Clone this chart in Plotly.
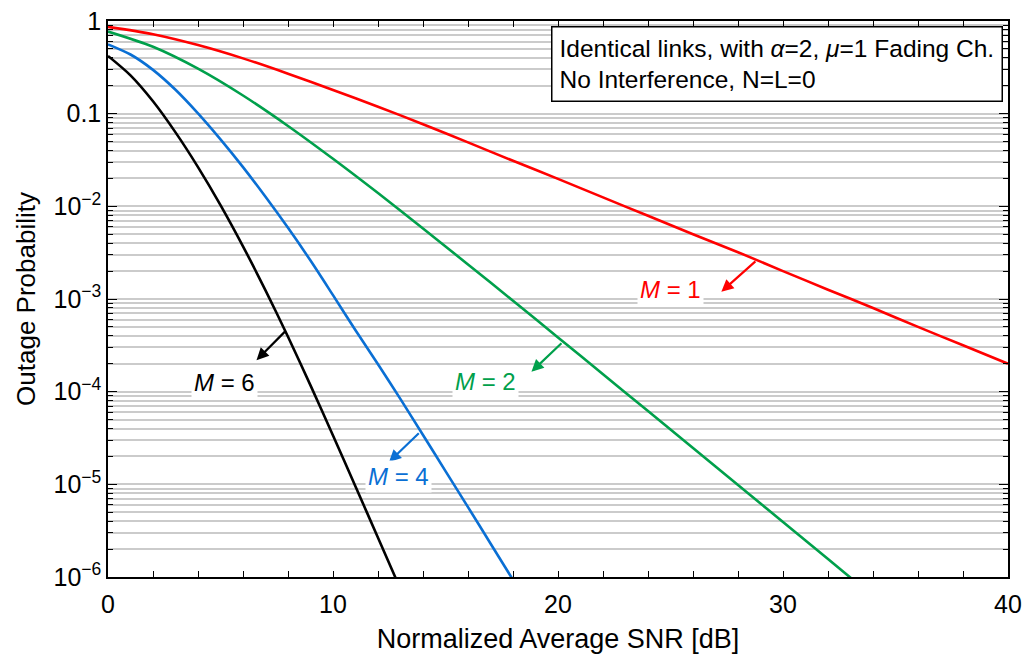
import plotly.graph_objects as go

# ---------------- data ----------------
snr_m1 = [0, 2, 4, 6, 8, 10, 12, 14, 16, 18, 20, 22, 24, 26, 28, 30, 32, 34, 36, 38, 40]
pout_m1 = [0.865, 0.72, 0.55, 0.395, 0.27, 0.18, 0.119, 0.077, 0.049, 0.031, 0.0198,
           0.0125, 0.0079, 0.005, 0.0032, 0.002, 0.00126, 0.0008, 0.0005, 0.000317, 0.0002]

snr_m2 = [0, 2, 4, 6, 8, 10, 12, 14, 16, 18, 20, 22, 24, 26, 28, 30, 32, 34]
pout_m2 = [0.769, 0.527, 0.306, 0.157, 0.0737, 0.0326, 0.0139, 0.00576, 0.00236, 9.57e-4,
           3.85e-4, 1.54e-4, 6.17e-5, 2.47e-5, 9.85e-6, 3.92e-6, 1.56e-6, 6.2e-7]

snr_m4 = [0, 1, 2, 3, 4, 5, 6, 7, 8, 9, 10, 11, 12, 13, 14, 15, 16, 17, 18, 19]
pout_m4 = [0.56, 0.435, 0.297, 0.181, 0.1007, 0.0528, 0.0265, 0.01268, 5.86e-3, 2.6e-3,
           1.10e-3, 4.6e-4, 1.98e-4, 8.3e-5, 3.41e-5, 1.39e-5, 5.68e-6, 2.3e-6, 9.3e-7, 3.7e-7]

snr_m6 = [0, 1, 2, 3, 4, 5, 6, 7, 8, 9, 10, 11, 12, 13]
pout_m6 = [0.42, 0.259, 0.136, 0.0628, 0.0265, 0.0103, 3.70e-3, 1.24e-3, 3.92e-4, 1.17e-4,
           3.37e-5, 9.5e-6, 2.65e-6, 7.4e-7]

series_names = ["M = 1", "M = 2", "M = 4", "M = 6"]
series_colors = ["#ff0000", "#00a04b", "#0a6fd4", "#000000"]

y_tickvals = [1e-6, 1e-5, 1e-4, 1e-3, 1e-2, 0.1, 1]
y_ticktext = ["10<sup>\u22126</sup>", "10<sup>\u22125</sup>", "10<sup>\u22124</sup>",
              "10<sup>\u22123</sup>", "10<sup>\u22122</sup>", "0.1", "1"]

# label annotations: text number, centre x, centre log10 y; arrow tail (on curve) and head
label_text = ["1", "2", "4", "6"]
label_x = [25.0, 16.76, 12.92, 5.16]
label_logy = [-2.893, -3.887, -4.912, -3.903]
arrow_tail_x = [28.84, 20.22, 13.88, 7.93]
arrow_tail_logy = [-2.580, -3.462, -4.434, -3.336]
arrow_head_x = [27.26, 18.82, 12.49, 6.60]
arrow_head_logy = [-2.922, -3.786, -4.758, -3.660]

FONT = "Arial, Liberation Sans, Helvetica, sans-serif"

fig = go.Figure()
for xs, ys, name, col in zip([snr_m1, snr_m2, snr_m4, snr_m6],
                             [pout_m1, pout_m2, pout_m4, pout_m6],
                             series_names, series_colors):
    fig.add_trace(go.Scatter(x=xs, y=ys, mode="lines", name=name,
                             line=dict(color=col, width=2.6, shape="spline", smoothing=0.8),
                             showlegend=False))

for i in range(4):
    col = series_colors[i]
    fig.add_annotation(x=arrow_head_x[i], y=arrow_head_logy[i], xref="x", yref="y",
                       ax=arrow_tail_x[i], ay=arrow_tail_logy[i], axref="x", ayref="y",
                       text="", showarrow=True, arrowhead=2, arrowsize=1.1,
                       arrowwidth=2.2, arrowcolor=col, standoff=0, startstandoff=0)
    fig.add_annotation(x=label_x[i], y=label_logy[i], xref="x", yref="y",
                       text="<i>M</i> = " + label_text[i], showarrow=False,
                       font=dict(family=FONT, size=24, color=col),
                       bgcolor="white", borderpad=2)

fig.add_annotation(x=0.9944, y=0.991, xref="paper", yref="paper",
                   xanchor="right", yanchor="top", align="left",
                   text="Identical links, with <i>\u03b1</i>=2, <i>\u03bc</i>=1 Fading Ch.<br>No Interference, N=L=0",
                   showarrow=False, font=dict(family=FONT, size=24.5, color="black"),
                   bgcolor="white", bordercolor="black", borderwidth=1.5, borderpad=7)

fig.update_layout(
    width=1026, height=656,
    margin=dict(l=108, r=18, t=21, b=79),
    paper_bgcolor="white", plot_bgcolor="white",
    font=dict(family=FONT, size=25, color="black"),
)

fig.update_xaxes(range=[0, 40], dtick=10, tick0=0, ticks="inside", ticklen=6, tickwidth=1.2,
                 tickcolor="black", showgrid=False, zeroline=False,
                 showline=True, linecolor="black", linewidth=1.5, mirror="ticks",
                 minor=dict(dtick=2, ticks="inside", ticklen=6, tickcolor="black", showgrid=False),
                 tickfont=dict(family=FONT, size=25), ticklabelstandoff=4,
                 title=dict(text="Normalized Average SNR [dB]", font=dict(family=FONT, size=27), standoff=12),
                 automargin=False)

fig.update_yaxes(type="log", range=[-6, 0], tickmode="array", tickvals=y_tickvals, ticktext=y_ticktext,
                 ticks="inside", ticklen=9, tickwidth=1.2, tickcolor="black",
                 showgrid=True, gridcolor="#cbcbcb", gridwidth=2,
                 showline=True, linecolor="black", linewidth=1.5, mirror="ticks", zeroline=False,
                 minor=dict(dtick="D1", ticks="inside", ticklen=5, tickcolor="black",
                            showgrid=True, gridcolor="#cbcbcb", gridwidth=2),
                 tickfont=dict(family=FONT, size=25), ticklabelstandoff=0,
                 title=dict(text="Outage Probability", font=dict(family=FONT, size=26), standoff=10),
                 automargin=False)

fig.write_html("out.html")
